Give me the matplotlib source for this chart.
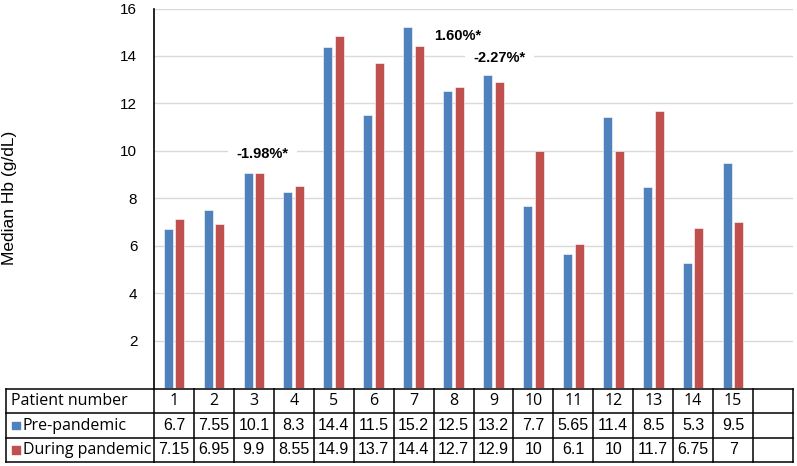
import matplotlib.pyplot as plt

# bar heights as drawn in the chart
patients = list(range(1, 16))
pre = [6.7, 7.52, 9.06, 8.27, 14.36, 11.49, 15.21, 12.51, 13.2, 7.69, 5.63, 11.41, 8.48, 5.26, 9.48]
during = [7.12, 6.93, 9.06, 8.53, 14.86, 13.71, 14.4, 12.71, 12.9, 10.0, 6.08, 10.0, 11.69, 6.73, 6.98]

# values printed in the data table
pre_labels = ["6.7", "7.55", "10.1", "8.3", "14.4", "11.5", "15.2", "12.5", "13.2",
              "7.7", "5.65", "11.4", "8.5", "5.3", "9.5"]
during_labels = ["7.15", "6.95", "9.9", "8.55", "14.9", "13.7", "14.4", "12.7", "12.9",
                 "10", "6.1", "10", "11.7", "6.75", "7"]

# significance notes: (x position in categories, y value, text)
notes = [(2.22, 9.87, "-1.98%*"), (7.1, 14.83, "1.60%*"), (8.15, 13.93, "-2.27%*")]

blue = "#4F81BD"
red = "#C0504D"
W, H = 797, 466

plt.rcParams['font.family'] = ['Liberation Sans', 'DejaVu Sans']
fig = plt.figure(figsize=(W / 100, H / 100), dpi=100)

# main chart axes (pixel placement)
left, right, top, bottom = 154, 793, 8.5, 388
ax = fig.add_axes([left / W, 1 - bottom / H, (right - left) / W, (bottom - top) / H])

x = list(range(15))
bw = 0.225
off = 0.145
ax.bar([i - off for i in x], pre, width=bw, color=blue, edgecolor="white", linewidth=0.4, zorder=3)
ax.bar([i + off for i in x], during, width=bw, color=red, edgecolor="white", linewidth=0.4, zorder=3)

ax.set_xlim(-0.5, 15.5)
ax.set_ylim(0, 16)
ax.set_yticks(range(2, 17, 2))
ax.tick_params(axis="y", length=0, labelsize=11, pad=12)
ax.set_xticks([])
ax.grid(axis="y", color="#D9D9D9", linewidth=1, zorder=0)
for s in ["top", "right", "bottom"]:
    ax.spines[s].set_visible(False)
ax.spines["left"].set_linewidth(1.2)

for nx, ny, txt in notes:
    ax.text(nx, ny, txt, ha="center", va="center", fontsize=10.5, fontweight="bold",
            bbox=dict(facecolor="white", edgecolor="none", pad=6), zorder=4)

fig.text(10 / W, 1 - 198 / H, "Median Hb (g/dL)", rotation=90, ha="center", va="center",
         fontsize=12.5)

# data table below the chart
t_left, t_top, t_bot = 6, 389, 462
tab = fig.add_axes([t_left / W, 1 - t_bot / H, (right - t_left) / W, (t_bot - t_top) / H])
x0 = -0.5 - (left - t_left) / ((right - left) / 16)
tab.set_xlim(x0, 15.5)
tab.set_ylim(0, 3)
tab.axis("off")

for yy in [0, 1, 2, 3]:
    tab.plot([x0, 15.5], [yy, yy], color="black", lw=1.1, clip_on=False)
for xx in [x0] + [k - 0.5 for k in range(17)]:
    tab.plot([xx, xx], [0, 3], color="black", lw=1.1, clip_on=False)

row_font = ['Open Sans', 'DejaVu Sans']
tab.text(x0 + 0.12, 2.5, "Patient number", ha="left", va="center", fontsize=11.5, family=row_font)
tab.text(x0 + 0.42, 1.5, "Pre-pandemic", ha="left", va="center", fontsize=11.5, family=row_font)
tab.text(x0 + 0.42, 0.5, "During pandemic", ha="left", va="center", fontsize=11.5, family=row_font)
tab.scatter([x0 + 0.25, x0 + 0.25], [1.5, 0.5], marker="s", s=30, color=[blue, red], clip_on=False)

for i in x:
    tab.text(i, 2.5, str(patients[i]), ha="center", va="center", fontsize=11.5, family=row_font)
    tab.text(i, 1.5, pre_labels[i], ha="center", va="center", fontsize=11.5)
    tab.text(i, 0.5, during_labels[i], ha="center", va="center", fontsize=11.5)

fig.savefig("out.png", dpi=100)
